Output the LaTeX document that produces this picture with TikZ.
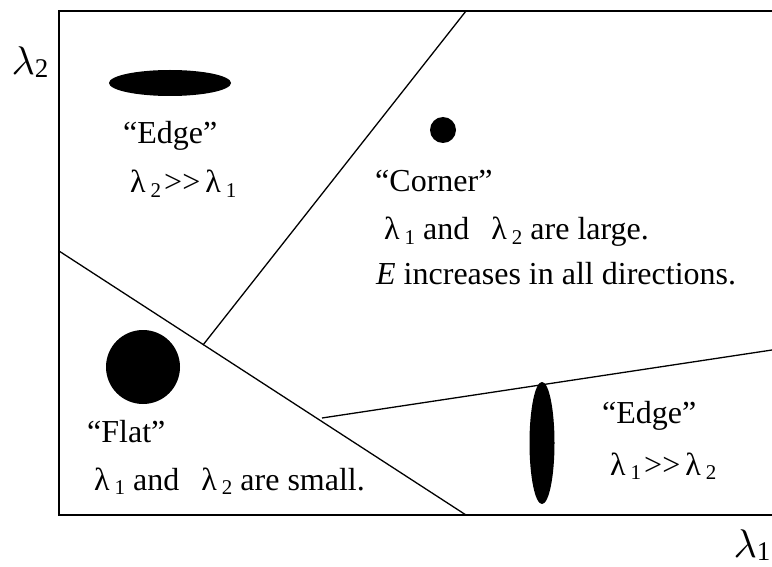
\documentclass[tikz,border=0pt]{standalone}
\usepackage{fontspec}
\setmainfont{Liberation Serif}
\usetikzlibrary{positioning}

% lambda with a lowered index, as the labels print it
\newcommand{\lamsub}[1]{λ\kern5pt\raisebox{-0.3ex}{\fontsize{21}{21}\selectfont #1}}
\newcommand{\axislam}[1]{\scalebox{4}{$\lambda$}\kern0pt\raisebox{-3pt}{\fontsize{27}{27}\selectfont #1}}

\begin{document}
\begin{tikzpicture}[
    x=1pt, y=-1pt,
    frame/.style={line width=2pt},
    divider/.style={line width=1.3pt},
    label/.style={anchor=base west, inner sep=0pt, font=\fontsize{32}{36}\selectfont},
    axislabel/.style={inner sep=0pt}
]
\useasboundingbox (0,0) rectangle (772,567);

% Frame (runs off the right edge)
\draw[frame] (772,11) -- (59,11) -- (59,515) -- (772,515);

% Region borders
\coordinate (cutTop) at (466,11);
\coordinate (cutMid) at (203,345);
\coordinate (cutLeft) at (59,251);
\coordinate (cutBottom) at (466,515);
\coordinate (cutLow) at (322,418);
\coordinate (cutRight) at (772,350);
\draw[divider] (cutTop) -- (cutMid);
\draw[divider] (cutLeft) -- (cutBottom);
\draw[divider] (cutLow) -- (cutRight);

% Blobs
\fill (170,83) ellipse [x radius=61, y radius=13];
\fill (443,130) circle [radius=13];
\fill (143,367) circle [radius=37];
\fill (542,443) ellipse [x radius=12.5, y radius=61];

% Edge (top left)
\node[label] (edgeA) at (123,144) {“Edge”};
\node[label] (edgeArel) at (130,193) {\lamsub{2}\kern3pt>{}>\kern5pt\lamsub{1}};

% Corner
\node[label] (corner) at (375,192) {“Corner”};
\node[label] (cornerA) at (384,240) {\lamsub{1} and\hspace{22pt}\lamsub{2} are large.};
\node[label] (cornerB) at (376,284) {\textit{E} increases in all directions.};

% Flat
\node[label] (flat) at (87,442) {“Flat”};
\node[label] (flatA) at (94,490) {\lamsub{1} and\hspace{22pt}\lamsub{2} are small.};

% Edge (bottom right)
\node[label] (edgeB) at (602,423) {“Edge”};
\node[label] (edgeBrel) at (610,475) {\lamsub{1}\kern3pt>{}>\kern5pt\lamsub{2}};

% Axis labels
\node[axislabel] (ytitle) at (30,62) {\axislam{2}};
\node[axislabel] (xtitle) at (752,545) {\axislam{1}};

\end{tikzpicture}
\end{document}
